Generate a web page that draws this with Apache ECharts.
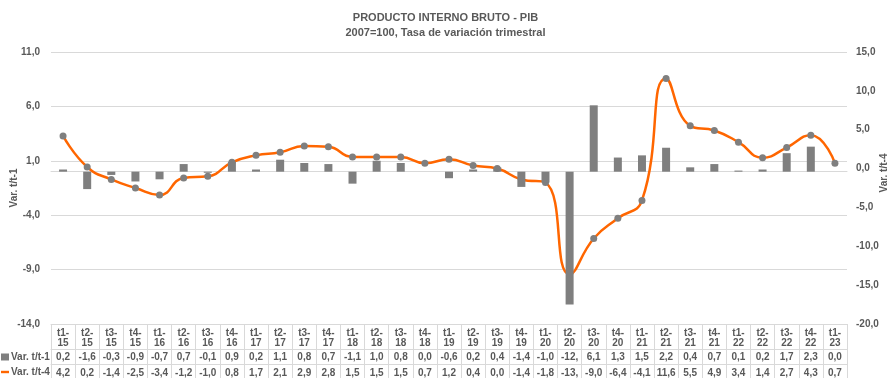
<!DOCTYPE html>
<html>
<head>
<meta charset="utf-8">
<script src="https://cdn.jsdelivr.net/npm/echarts@6/dist/echarts.min.js"></script>
<style>
  html, body { margin: 0; padding: 0; background: #fff; }
  #chart { width: 891px; height: 378px; }
</style>
</head>
<body>
<div id="chart"></div>
<script>
// Quarter labels (quarter / year)
const quarters = ['t1','t2','t3','t4','t1','t2','t3','t4','t1','t2','t3','t4','t1','t2','t3','t4',
                  't1','t2','t3','t4','t1','t2','t3','t4','t1','t2','t3','t4','t1','t2','t3','t4','t1'];
const years = ['15','15','15','15','16','16','16','16','17','17','17','17','18','18','18','18',
               '19','19','19','19','20','20','20','20','21','21','21','21','22','22','22','22','23'];

// Quarter-on-quarter change (bars, left axis)
const varT1 = [0.2, -1.6, -0.3, -0.9, -0.7, 0.7, -0.1, 0.9, 0.2, 1.1, 0.8, 0.7, -1.1, 1.0, 0.8, 0.0,
               -0.6, 0.2, 0.4, -1.4, -1.0, -12.2, 6.1, 1.3, 1.5, 2.2, 0.4, 0.7, 0.1, 0.2, 1.7, 2.3, 0.0];
// Year-on-year change (line, right axis)
const varT4 = [4.2, 0.2, -1.4, -2.5, -3.4, -1.2, -1.0, 0.8, 1.7, 2.1, 2.9, 2.8, 1.5, 1.5, 1.5, 0.7,
               1.2, 0.4, 0.0, -1.4, -1.8, -13.6, -9.0, -6.4, -4.1, 11.6, 5.5, 4.9, 3.4, 1.4, 2.7, 4.3, 0.7];

const seriesNames = ['Var. t/t-1', 'Var. t/t-4'];
const titleText = 'PRODUCTO INTERNO BRUTO - PIB';
const subtitleText = '2007=100, Tasa de variación trimestral';

const categories = quarters.map((q, i) => q + '-\n' + years[i]);
const fmt = v => v.toFixed(1).replace('.', ',');

const TXT = '#595959';
const GRID = '#d9d9d9';
const FONT = 'Liberation Sans, Arial, sans-serif';

const chart = echarts.init(document.getElementById('chart'), null, { renderer: 'canvas' });

const valueRowLabel = {
  interval: 0, color: TXT, fontWeight: 'bold', fontSize: 10, fontFamily: FONT,
  lineHeight: 12, margin: 2, width: 22, overflow: 'truncate', ellipsis: ''
};

const axisNameStyle = { color: TXT, fontWeight: 'bold', fontSize: 10, fontFamily: FONT };

chart.setOption({
  animation: false,
  backgroundColor: '#fff',
  textStyle: { fontFamily: FONT },
  title: {
    text: titleText,
    subtext: subtitleText,
    left: 'center',
    top: 6,
    itemGap: 2,
    textStyle: { fontSize: 11, fontWeight: 'bold', color: TXT, fontFamily: FONT, lineHeight: 13 },
    subtextStyle: { fontSize: 11, fontWeight: 'bold', color: TXT, fontFamily: FONT, lineHeight: 13 }
  },
  legend: {
    orient: 'vertical',
    left: 1,
    top: 351,
    height: 60,
    padding: 0,
    itemGap: 3,
    itemWidth: 8,
    itemHeight: 7,
    textStyle: { fontSize: 10, fontWeight: 'bold', color: TXT, fontFamily: FONT, lineHeight: 12, padding: [0, 0, 0, -3] },
    data: [
      { name: seriesNames[0], icon: 'rect' },
      { name: seriesNames[1], icon: 'path://M0,0h10v3h-10z', itemStyle: { color: '#ff6600' } }
    ]
  },
  grid: { left: 51, right: 44, top: 52, bottom: 54, outerBoundsMode: 'none', containLabel: false },
  xAxis: [
    {
      // header row of the table: quarter labels, with column separators drawn as ticks
      type: 'category', data: categories, position: 'bottom',
      axisLine: { show: true, onZero: false, lineStyle: { color: GRID } },
      axisTick: { show: true, length: 56, lineStyle: { color: GRID } },
      axisLabel: { interval: 0, color: TXT, fontWeight: 'bold', fontSize: 10, fontFamily: FONT, lineHeight: 10, margin: 4 },
      splitLine: { show: false }
    },
    {
      // table row: quarter-on-quarter values
      type: 'category', data: varT1.map(fmt), position: 'bottom', offset: 25,
      axisLine: { show: true, onZero: false, lineStyle: { color: GRID } },
      axisTick: { show: false },
      axisLabel: valueRowLabel
    },
    {
      // table row: year-on-year values
      type: 'category', data: varT4.map(fmt), position: 'bottom', offset: 40,
      axisLine: { show: true, onZero: false, lineStyle: { color: GRID } },
      axisTick: { show: false },
      axisLabel: Object.assign({}, valueRowLabel, { margin: 3 })
    },
    {
      // horizontal zero line of the bar axis
      type: 'category', data: categories, position: 'bottom',
      axisLine: { show: true, onZero: true, onZeroAxisIndex: 0, lineStyle: { color: GRID } },
      axisTick: { show: false },
      axisLabel: { show: false }
    }
  ],
  yAxis: [
    {
      type: 'value', min: -14, max: 11, interval: 5, position: 'left',
      name: seriesNames[0], nameLocation: 'middle', nameRotate: 90, nameGap: 32,
      nameMoveOverlap: false,
      nameTextStyle: axisNameStyle,
      axisLine: { show: false }, axisTick: { show: false },
      axisLabel: { color: TXT, fontWeight: 'bold', fontSize: 10, fontFamily: FONT, margin: 11, formatter: fmt },
      splitLine: { show: true, lineStyle: { color: GRID, width: 1 } }
    },
    {
      type: 'value', min: -20, max: 15, interval: 5, position: 'right',
      name: seriesNames[1], nameLocation: 'middle', nameRotate: 90, nameGap: 32,
      nameMoveOverlap: false,
      nameTextStyle: Object.assign({}, axisNameStyle, { padding: [0, 0, 0, 30] }),
      axisLine: { show: false }, axisTick: { show: false },
      axisLabel: { color: TXT, fontWeight: 'bold', fontSize: 10, fontFamily: FONT, margin: 9, formatter: fmt },
      splitLine: { show: false }
    }
  ],
  series: [
    {
      name: seriesNames[1], type: 'line', yAxisIndex: 1, xAxisIndex: 0,
      data: varT4, smooth: 0.5,
      symbol: 'circle', symbolSize: 7,
      lineStyle: { color: '#ff6600', width: 2.5 },
      itemStyle: { color: '#7f7f7f' },
      z: 2
    },
    {
      name: seriesNames[0], type: 'bar', yAxisIndex: 0, xAxisIndex: 0,
      data: varT1, barWidth: 8,
      itemStyle: { color: '#7f7f7f' },
      z: 3
    }
  ]
});
</script>
</body>
</html>
